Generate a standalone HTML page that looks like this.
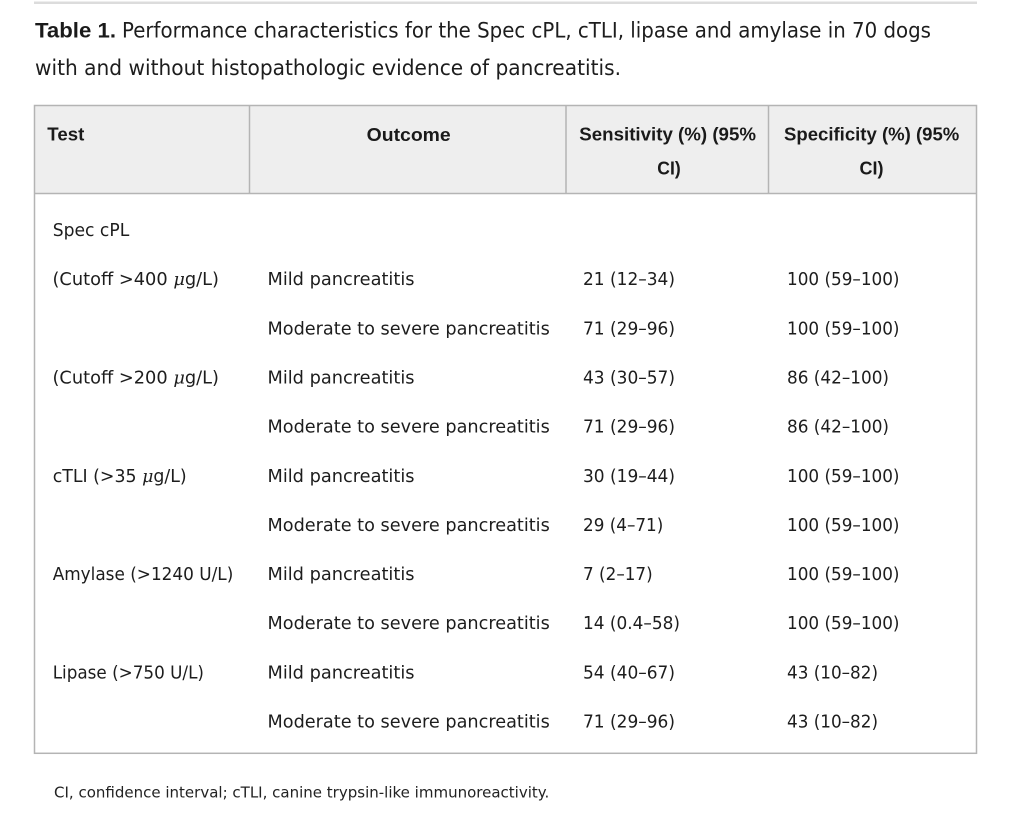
<!DOCTYPE html>
<html>
<head>
<meta charset="utf-8">
<style>
  html, body { margin: 0; padding: 0; background: #ffffff; }
  body { width: 1024px; height: 818px; overflow: hidden; }
  svg { display: block; }
  .b { font-family: "DejaVu Sans", "Liberation Sans", sans-serif; font-size: 18px; fill: #1d1d1d; }
  .h { font-family: "Liberation Sans", "DejaVu Sans", sans-serif; font-size: 18.5px; font-weight: bold; fill: #1a1a1a; }
  .t { font-family: "DejaVu Sans", "Liberation Sans", sans-serif; font-size: 21px; fill: #1d1d1d; }
  .tb { font-family: "Liberation Sans", "DejaVu Sans", sans-serif; font-size: 21.5px; font-weight: bold; fill: #1a1a1a; }
  .f { font-family: "DejaVu Sans", "Liberation Sans", sans-serif; font-size: 15.5px; fill: #222; }
  .mu { font-family: "DejaVu Serif", "Liberation Serif", serif; font-style: italic; }
</style>
</head>
<body>
<svg width="1024" height="818" viewBox="0 0 1024 818" xmlns="http://www.w3.org/2000/svg">
  <!-- top rule -->
  <rect x="34" y="1.5" width="943" height="2.5" fill="#dcdcdc"/>

  <!-- title -->
  <text class="tb" x="35" y="37.7" textLength="81" lengthAdjust="spacingAndGlyphs">Table 1.</text>
  <text class="t" x="122" y="37.7" textLength="809" lengthAdjust="spacingAndGlyphs">Performance characteristics for the Spec cPL, cTLI, lipase and amylase in 70 dogs</text>
  <text class="t" x="35" y="75.2" textLength="586" lengthAdjust="spacingAndGlyphs">with and without histopathologic evidence of pancreatitis.</text>

  <!-- table header background -->
  <rect x="34.5" y="105.5" width="942" height="88" fill="#eeeeee"/>
  <!-- header dividers -->
  <line x1="249.5" y1="105.5" x2="249.5" y2="193.5" stroke="#b4b4b4" stroke-width="1.5"/>
  <line x1="566" y1="105.5" x2="566" y2="193.5" stroke="#b4b4b4" stroke-width="1.5"/>
  <line x1="768.5" y1="105.5" x2="768.5" y2="193.5" stroke="#b4b4b4" stroke-width="1.5"/>
  <line x1="34.5" y1="193.5" x2="976.5" y2="193.5" stroke="#b4b4b4" stroke-width="1.5"/>
  <!-- outer border -->
  <rect x="34.5" y="105.5" width="942" height="647.8" fill="none" stroke="#b4b4b4" stroke-width="1.5"/>

  <!-- header text -->
  <text class="h" x="47.3" y="140.7" textLength="37" lengthAdjust="spacingAndGlyphs">Test</text>
  <text class="h" x="366.7" y="141" textLength="84" lengthAdjust="spacingAndGlyphs">Outcome</text>
  <text class="h" x="579.3" y="140.7" textLength="176.7" lengthAdjust="spacingAndGlyphs">Sensitivity (%) (95%</text>
  <text class="h" x="657.3" y="174.3" textLength="23.4" lengthAdjust="spacingAndGlyphs">CI)</text>
  <text class="h" x="784" y="140.7" textLength="175.3" lengthAdjust="spacingAndGlyphs">Specificity (%) (95%</text>
  <text class="h" x="859.5" y="174.3" textLength="24" lengthAdjust="spacingAndGlyphs">CI)</text>

  <!-- column 1 -->
  <text class="b" x="52.7" y="236" textLength="76.6" lengthAdjust="spacingAndGlyphs">Spec cPL</text>
  <text class="b" x="52.5" y="285.15" textLength="166.5" lengthAdjust="spacingAndGlyphs">(Cutoff &gt;400 <tspan class="mu">μ</tspan>g/L)</text>
  <text class="b" x="52.5" y="383.45" textLength="166.5" lengthAdjust="spacingAndGlyphs">(Cutoff &gt;200 <tspan class="mu">μ</tspan>g/L)</text>
  <text class="b" x="52.7" y="481.75" textLength="134" lengthAdjust="spacingAndGlyphs">cTLI (&gt;35 <tspan class="mu">μ</tspan>g/L)</text>
  <text class="b" x="52.7" y="580.05" textLength="180.6" lengthAdjust="spacingAndGlyphs">Amylase (&gt;1240 U/L)</text>
  <text class="b" x="52.7" y="678.35" textLength="151.3" lengthAdjust="spacingAndGlyphs">Lipase (&gt;750 U/L)</text>

  <!-- column 2 -->
  <text class="b" x="267.5" y="285.15" textLength="147" lengthAdjust="spacingAndGlyphs">Mild pancreatitis</text>
  <text class="b" x="267.5" y="334.3" textLength="282.3" lengthAdjust="spacingAndGlyphs">Moderate to severe pancreatitis</text>
  <text class="b" x="267.5" y="383.45" textLength="147" lengthAdjust="spacingAndGlyphs">Mild pancreatitis</text>
  <text class="b" x="267.5" y="432.6" textLength="282.3" lengthAdjust="spacingAndGlyphs">Moderate to severe pancreatitis</text>
  <text class="b" x="267.5" y="481.75" textLength="147" lengthAdjust="spacingAndGlyphs">Mild pancreatitis</text>
  <text class="b" x="267.5" y="530.9" textLength="282.3" lengthAdjust="spacingAndGlyphs">Moderate to severe pancreatitis</text>
  <text class="b" x="267.5" y="580.05" textLength="147" lengthAdjust="spacingAndGlyphs">Mild pancreatitis</text>
  <text class="b" x="267.5" y="629.2" textLength="282.3" lengthAdjust="spacingAndGlyphs">Moderate to severe pancreatitis</text>
  <text class="b" x="267.5" y="678.35" textLength="147" lengthAdjust="spacingAndGlyphs">Mild pancreatitis</text>
  <text class="b" x="267.5" y="727.5" textLength="282.3" lengthAdjust="spacingAndGlyphs">Moderate to severe pancreatitis</text>

  <!-- column 3 -->
  <text class="b" x="583" y="285.15" textLength="92" lengthAdjust="spacingAndGlyphs">21 (12–34)</text>
  <text class="b" x="583" y="334.3" textLength="92" lengthAdjust="spacingAndGlyphs">71 (29–96)</text>
  <text class="b" x="583" y="383.45" textLength="92" lengthAdjust="spacingAndGlyphs">43 (30–57)</text>
  <text class="b" x="583" y="432.6" textLength="92" lengthAdjust="spacingAndGlyphs">71 (29–96)</text>
  <text class="b" x="583" y="481.75" textLength="92" lengthAdjust="spacingAndGlyphs">30 (19–44)</text>
  <text class="b" x="583" y="530.9" textLength="80.3" lengthAdjust="spacingAndGlyphs">29 (4–71)</text>
  <text class="b" x="583" y="580.05" textLength="69.7" lengthAdjust="spacingAndGlyphs">7 (2–17)</text>
  <text class="b" x="583" y="629.2" textLength="97" lengthAdjust="spacingAndGlyphs">14 (0.4–58)</text>
  <text class="b" x="583" y="678.35" textLength="92" lengthAdjust="spacingAndGlyphs">54 (40–67)</text>
  <text class="b" x="583" y="727.5" textLength="92" lengthAdjust="spacingAndGlyphs">71 (29–96)</text>

  <!-- column 4 -->
  <text class="b" x="787" y="285.15" textLength="112.5" lengthAdjust="spacingAndGlyphs">100 (59–100)</text>
  <text class="b" x="787" y="334.3" textLength="112.5" lengthAdjust="spacingAndGlyphs">100 (59–100)</text>
  <text class="b" x="787" y="383.45" textLength="102" lengthAdjust="spacingAndGlyphs">86 (42–100)</text>
  <text class="b" x="787" y="432.6" textLength="102" lengthAdjust="spacingAndGlyphs">86 (42–100)</text>
  <text class="b" x="787" y="481.75" textLength="112.5" lengthAdjust="spacingAndGlyphs">100 (59–100)</text>
  <text class="b" x="787" y="530.9" textLength="112.5" lengthAdjust="spacingAndGlyphs">100 (59–100)</text>
  <text class="b" x="787" y="580.05" textLength="112.5" lengthAdjust="spacingAndGlyphs">100 (59–100)</text>
  <text class="b" x="787" y="629.2" textLength="112.5" lengthAdjust="spacingAndGlyphs">100 (59–100)</text>
  <text class="b" x="787" y="678.35" textLength="91" lengthAdjust="spacingAndGlyphs">43 (10–82)</text>
  <text class="b" x="787" y="727.5" textLength="91" lengthAdjust="spacingAndGlyphs">43 (10–82)</text>

  <!-- footnote -->
  <text class="f" x="54" y="797.3" textLength="495.3" lengthAdjust="spacingAndGlyphs">CI, confidence interval; cTLI, canine trypsin-like immunoreactivity.</text>
</svg>
</body>
</html>
